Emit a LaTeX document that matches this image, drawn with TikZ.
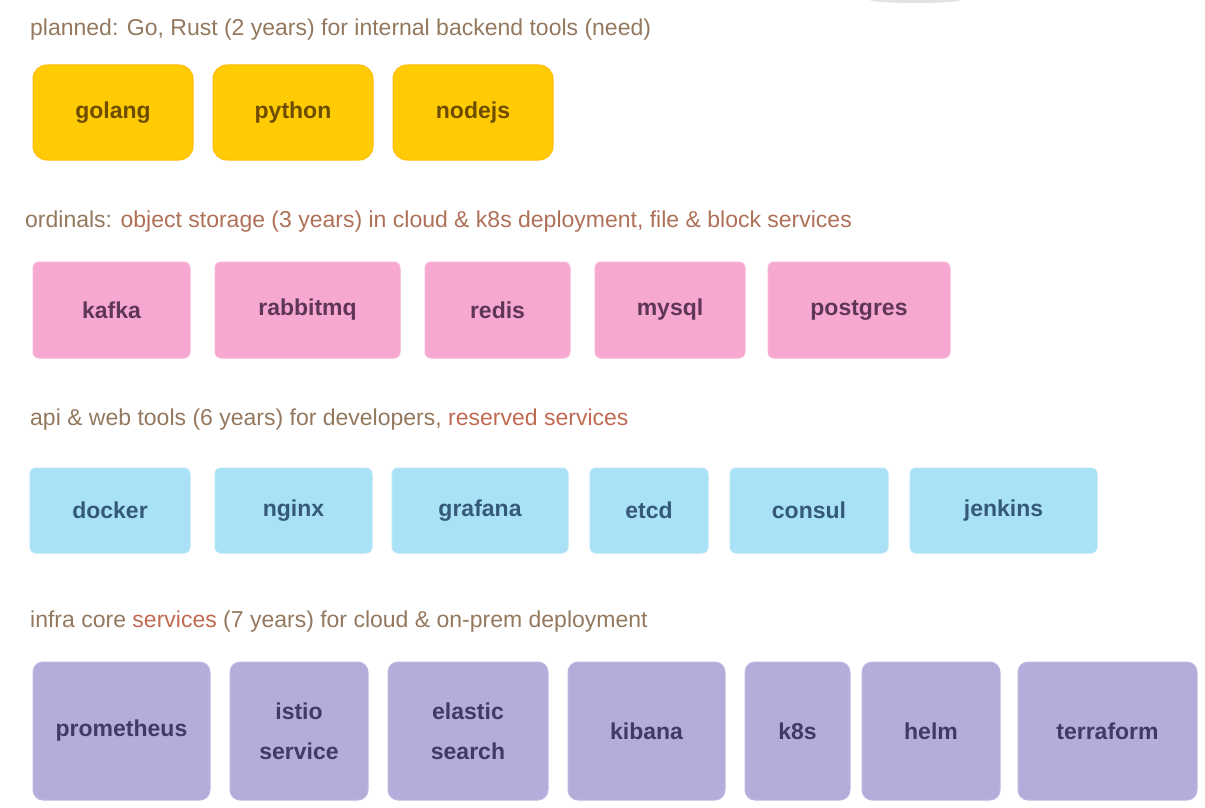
\documentclass[tikz,border=0pt]{standalone}
\usepackage{fontspec}
\setmainfont{Liberation Sans}
\definecolor{ttl}{HTML}{94785E}
\definecolor{acc}{HTML}{C06A52}
\definecolor{yel}{HTML}{FFCB05}
\definecolor{yeltx}{HTML}{6E4C00}
\definecolor{pnk}{HTML}{F6A8D0}
\definecolor{pnktx}{HTML}{603656}
\definecolor{blu}{HTML}{A9E1F6}
\definecolor{blutx}{HTML}{345A78}
\definecolor{lav}{HTML}{B2ADDA}
\definecolor{lavtx}{HTML}{403A68}
\tikzset{
  title/.style={anchor=west, inner sep=0pt, text=ttl, font=\fontsize{23}{26}\selectfont},
  lbl/.style={font=\bfseries\fontsize{23}{40}\selectfont, inner sep=0pt, line width=1pt, align=center},
  ybox/.style={lbl, fill=yel, draw=yel!80!orange, rounded corners=14pt, text=yeltx, minimum height=95pt},
  pbox/.style={lbl, fill=pnk, draw=pnk!85!white, rounded corners=6pt, text=pnktx, minimum height=96pt},
  bbox/.style={lbl, fill=blu, draw=blu!85!white, rounded corners=6pt, text=blutx, minimum height=85pt},
  lbox/.style={lbl, fill=lav, draw=lav!85!white, rounded corners=10pt, text=lavtx, minimum height=138pt},
}
\begin{document}
\begin{tikzpicture}[x=1pt,y=-1pt]
\useasboundingbox (0,0) rectangle (1205,808);
\fill[gray!22] (915,0) ellipse [x radius=45, y radius=3];
% row 1
\node[title] (t1) at (30,30) {planned: Go, Rust (2 years) for internal backend tools (need)};
\node[ybox, minimum width=160pt] (y1) at (113,112.5) {golang};
\node[ybox, minimum width=160pt] (y2) at (293,112.5) {python};
\node[ybox, minimum width=160pt] (y3) at (473,112.5) {nodejs};
% row 2
\node[title] (t2) at (25,222) {ordinals: \textcolor{acc!60!ttl}{object storage (3 years) in cloud \& k8s deployment, file \& block services}};
\node[pbox, minimum width=157pt] (p1) at (111.5,310) {kafka};
\node[pbox, minimum width=185pt] (p2) at (307.5,310) {rabbitmq};
\node[pbox, minimum width=145pt] (p3) at (497.5,310) {redis};
\node[pbox, minimum width=150pt] (p4) at (670,310) {mysql};
\node[pbox, minimum width=182pt] (p5) at (859,310) {postgres};
% row 3
\node[title] (t3) at (30,420) {api \& web tools (6 years) for developers, \textcolor{acc}{reserved services}};
\node[bbox, minimum width=160pt] (b1) at (110,510.5) {docker};
\node[bbox, minimum width=157pt] (b2) at (293.5,510.5) {nginx};
\node[bbox, minimum width=176pt] (b3) at (480,510.5) {grafana};
\node[bbox, minimum width=118pt] (b4) at (649,510.5) {etcd};
\node[bbox, minimum width=158pt] (b5) at (809,510.5) {consul};
\node[bbox, minimum width=187pt] (b6) at (1003.5,510.5) {jenkins};
% row 4
\node[title] (t4) at (30,622) {infra core \textcolor{acc}{services} (7 years) for cloud \& on-prem deployment};
\node[lbox, minimum width=177pt] (l1) at (121.5,731) {prometheus};
\node[lbox, minimum width=138pt] (l2) at (299,731) {istio\\service};
\node[lbox, minimum width=160pt] (l3) at (468,731) {elastic\\search};
\node[lbox, minimum width=157pt] (l4) at (646.5,731) {kibana};
\node[lbox, minimum width=105pt] (l5) at (797.5,731) {k8s};
\node[lbox, minimum width=138pt] (l6) at (931,731) {helm};
\node[lbox, minimum width=179pt] (l7) at (1107.5,731) {terraform};
\end{tikzpicture}
\end{document}
